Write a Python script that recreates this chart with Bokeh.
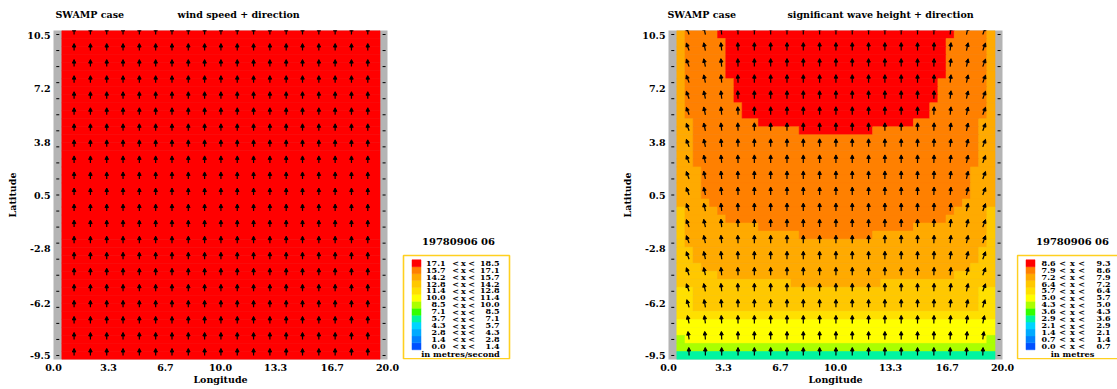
import math
from bokeh.plotting import figure
from bokeh.layouts import row, column
from bokeh.models import ColumnDataSource, Range1d, FixedTicker, LinearColorMapper, Arrow, NormalHead
from bokeh.transform import transform
from bokeh.core.properties import value
from bokeh.embed import file_html
from bokeh.resources import INLINE

FONT = "DejaVu Serif"

# ---------------- data ----------------
palette = ["#0050ff", "#0080ff", "#00aaff", "#00d4ff", "#00f5a0", "#33ff00",
           "#aaff00", "#ffff00", "#ffe000", "#ffc800", "#ffaa00", "#ff8000", "#ff0000"]

wind_edges = [0.0, 1.4, 2.8, 4.3, 5.7, 7.1, 8.5, 10.0, 11.4, 12.8, 14.2, 15.7, 17.1, 18.5]
wave_edges = [0.0, 0.7, 1.4, 2.1, 2.9, 3.6, 4.3, 5.0, 5.7, 6.4, 7.2, 7.9, 8.6, 9.3]

x_tick_labels = ["0.0", "3.3", "6.7", "10.0", "13.3", "16.7", "20.0"]
y_tick_labels = ["10.5", "7.2", "3.8", "0.5", "-2.8", "-6.2", "-9.5"]

date_label = "19780906 06"

# model grid: 41 x 41 points, outer columns are land
n_lon, lon0, dlon = 41, 0.256, 0.4885
n_lat, lat0, dlat = 41, -9.47, 0.5005

# wave height classes (metres) read from the colour field
wave_code_height = {"R": 8.9, "D": 8.2, "O": 7.5, "G": 6.8, "g": 6.0, "Y": 5.3, "L": 4.6, "M": 3.2}
# sea rows, top (north) to bottom (south), 39 sea columns each
wave_rows = [
    "ODDDD" + "R" * 29 + "DDDDO",
    "ODDDDD" + "R" * 27 + "DDDDDO",
    "ODDDDD" + "R" * 27 + "DDDDDO",
    "ODDDDD" + "R" * 27 + "DDDDDO",
    "ODDDDD" + "R" * 27 + "DDDDDO",
    "ODDDDD" + "R" * 27 + "DDDDDO",
    "O" + "D" * 6 + "R" * 25 + "D" * 6 + "O",
    "O" + "D" * 6 + "R" * 25 + "D" * 6 + "O",
    "O" + "D" * 6 + "R" * 25 + "D" * 6 + "O",
    "O" + "D" * 7 + "R" * 23 + "D" * 7 + "O",
    "O" + "D" * 7 + "R" * 23 + "D" * 7 + "O",
    "OO" + "D" * 8 + "R" * 19 + "D" * 8 + "OO",
    "OO" + "D" * 13 + "R" * 9 + "D" * 13 + "OO",
    "OO" + "D" * 35 + "OO",
    "OO" + "D" * 35 + "OO",
    "OO" + "D" * 35 + "OO",
    "OO" + "D" * 35 + "OO",
    "OOO" + "D" * 33 + "OOO",
    "OOO" + "D" * 33 + "OOO",
    "OOO" + "D" * 33 + "OOO",
    "OOO" + "D" * 33 + "OOO",
    "OOOO" + "D" * 31 + "OOOO",
    "GOOOO" + "D" * 29 + "OOOOG",
    "G" + "O" * 5 + "D" * 27 + "O" * 5 + "G",
    "G" + "O" * 9 + "D" * 19 + "O" * 9 + "G",
    "G" + "O" * 14 + "D" * 9 + "O" * 14 + "G",
    "G" + "O" * 37 + "G",
    "GG" + "O" * 35 + "GG",
    "GG" + "O" * 35 + "GG",
    "GGG" + "O" * 33 + "GGG",
    "G" * 5 + "O" * 29 + "G" * 5,
    "G" * 14 + "O" * 11 + "G" * 14,
    "gg" + "G" * 35 + "gg",
    "gg" + "G" * 35 + "gg",
    "gg" + "G" * 35 + "gg",
    "g" * 39,
    "Y" * 39,
    "Y" * 39,
    "L" + "Y" * 37 + "L",
    "L" * 39,
    "M" * 39,
]

wind_code_speed = {"R": 17.8}
wind_rows = ["R" * 39] * 41

# arrow directions (degrees, clockwise from north) for the 19 arrow columns
wave_dir_cols = [-20, -12, -6, -2, 0, 0, 0, 0, 0, 0, 0, 0, 0, 0, 0, 2, 6, 12, 20]
# how much of that turning is present on each arrow row, south to north
wave_dir_row_share = [0.1, 0.4, 0.6, 0.8, 1, 1, 1, 1, 1, 1, 1, 1, 1, 1, 1, 1, 1, 1, 1, 1, 1]
wind_dir_cols = [0] * 19
wind_dir_row_share = [1] * 21

# ---------------- geometry ----------------
X0, X1, Y0, Y1 = 0.0, 20.0, -9.72, 10.8
FRAME_W, FRAME_H = 334, 329
PX_X = FRAME_W / (X1 - X0)
PX_Y = FRAME_H / (Y1 - Y0)
TOP_H = 30
BORDER_L, BORDER_R, BORDER_B = 53, 14, 30
MAP_W = BORDER_L + FRAME_W + BORDER_R
MAP_H = FRAME_H + BORDER_B


def field_runs(rows, code_val):
    L, R, T, B, V = [], [], [], [], []
    n = len(rows)
    for ri, s in enumerate(rows):
        r = n - 1 - ri  # row index from south
        yc = lat0 + dlat * r
        j = 0
        while j < len(s):
            k = j
            while k + 1 < len(s) and s[k + 1] == s[j]:
                k += 1
            L.append(lon0 + dlon * (j + 0.5))
            R.append(lon0 + dlon * (k + 1.5))
            T.append(yc + dlat / 2)
            B.append(yc - dlat / 2)
            V.append(code_val[s[j]])
            j = k + 1
    return ColumnDataSource(dict(left=L, right=R, top=T, bottom=B, v=V))


def arrows(dir_cols, row_share, length_px):
    xs, ys, xe, ye = [], [], [], []
    for ai, i in enumerate(range(0, n_lat, 2)):
        lat = lat0 + dlat * i
        for aj, k in enumerate(range(2, n_lon - 1, 2)):
            lon = lon0 + dlon * k
            d = math.radians(dir_cols[aj] * row_share[ai])
            xs.append(lon)
            ys.append(lat)
            xe.append(lon + length_px * math.sin(d) / PX_X)
            ye.append(lat + length_px * math.cos(d) / PX_Y)
    return ColumnDataSource(dict(xs=xs, ys=ys, xe=xe, ye=ye))


def land_points():
    xs, ys = [], []
    for i in range(0, n_lat, 2):
        for k in (0, n_lon - 1):
            xs.append(lon0 + dlon * k)
            ys.append(lat0 + dlat * i)
    return ColumnDataSource(dict(x=xs, y=ys))


def map_fig(rows, code_val, edges, dir_cols, row_share, length_px):
    p = figure(frame_width=FRAME_W, frame_height=FRAME_H, x_range=Range1d(X0, X1), y_range=Range1d(Y0, Y1),
               output_backend="svg", toolbar_location=None,
               min_border_left=BORDER_L, min_border_right=BORDER_R, min_border_top=0,
               min_border_bottom=BORDER_B,
               x_axis_label="Longitude", y_axis_label="Latitude")
    p.background_fill_color = "#b4b4b4"
    p.border_fill_color = "white"
    p.outline_line_color = None
    p.grid.visible = False
    mapper = LinearColorMapper(palette=palette, low=edges[0], high=edges[-1])
    src = field_runs(rows, code_val)
    p.quad(left="left", right="right", top="top", bottom="bottom", source=src,
           fill_color=transform("v", mapper), line_color=transform("v", mapper), line_width=0.6)
    p.add_layout(Arrow(end=NormalHead(size=3.5, line_color="black", fill_color="black", line_width=1),
                       x_start="xs", y_start="ys", x_end="xe", y_end="ye",
                       source=arrows(dir_cols, row_share, length_px),
                       line_color="black", line_width=1.2))
    p.scatter(x="x", y="y", source=land_points(), marker="dash", size=3, line_color="black", line_width=1)

    xt = [float(s) for s in x_tick_labels]
    yt = [float(s) for s in y_tick_labels]
    p.xaxis.ticker = FixedTicker(ticks=xt)
    p.xaxis.major_label_overrides = {t: s for t, s in zip(xt, x_tick_labels)}
    p.yaxis.ticker = FixedTicker(ticks=yt)
    p.yaxis.major_label_overrides = {t: s for t, s in zip(yt, y_tick_labels)}
    for ax in (p.xaxis, p.yaxis):
        ax.axis_line_color = None
        ax.major_tick_line_color = None
        ax.minor_tick_line_color = None
        ax.major_tick_out = 0
        ax.major_tick_in = 0
        ax.major_label_text_font = FONT
        ax.major_label_text_font_style = "bold"
        ax.major_label_text_font_size = "9.5px"
        ax.major_label_text_color = "black"
        ax.axis_label_text_font = FONT
        ax.axis_label_text_font_style = "bold"
        ax.axis_label_text_font_size = "9.5px"
        ax.axis_label_text_color = "black"
    p.xaxis.major_label_standoff = 4
    p.xaxis.axis_label_standoff = 0
    p.yaxis.major_label_standoff = 3
    p.yaxis.axis_label_standoff = 6
    return p


def text_fig(x0, x1, y0, y1, border_bottom=0):
    p = figure(width=x1 - x0, height=y1 - y0 + border_bottom, x_range=Range1d(x0, x1), y_range=Range1d(y1, y0),
               output_backend="svg", toolbar_location=None, x_axis_type=None, y_axis_type=None,
               min_border=0, min_border_bottom=border_bottom)
    p.outline_line_color = None
    p.grid.visible = False
    p.background_fill_color = "white"
    p.border_fill_color = "white"
    return p


def txt(p, x, y, s, size, align="left"):
    p.text(x=[x], y=[y], text=[s], text_font=value(FONT), text_font_style="bold",
           text_font_size=size, text_align=align, text_baseline="middle", text_color="black")


def legend_fig(x0, x1, box_left, edges, unit, unit_x, cols):
    # frame aligned with the map frame: page rows TOP_H .. TOP_H + FRAME_H
    p = text_fig(x0, x1, TOP_H, TOP_H + FRAME_H, border_bottom=BORDER_B)
    top, step = 259.3, 6.92
    n = len(palette)
    lefts, rights, tops, bottoms = [], [], [], []
    for b in range(n):
        t = top + step * (n - 1 - b)
        lefts.append(box_left + 8.5)
        rights.append(box_left + 17.5)
        tops.append(t)
        bottoms.append(t + step)
    p.quad(left=lefts, right=rights, top=tops, bottom=bottoms, fill_color=palette, line_color=palette, line_width=0.5)
    p.quad(left=[box_left], right=[box_left + 106], top=[255], bottom=[358.3], fill_color=None,
           line_color="#ffd020", line_width=1.6)
    c_lo, c_lt1, c_x, c_lt2, c_hi = cols
    for b in range(n):
        yc = top + step * (n - 1 - b) + step / 2
        txt(p, box_left + c_lo, yc, f"{edges[b]:.1f}", "8px", "right")
        txt(p, box_left + c_lt1, yc, "<", "8px", "center")
        txt(p, box_left + c_x, yc, "x", "8px", "center")
        txt(p, box_left + c_lt2, yc, "<", "8px", "center")
        txt(p, box_left + c_hi, yc, f"{edges[b + 1]:.1f}", "8px", "right")
    txt(p, unit_x, 353.8, unit, "8.2px", "center")
    txt(p, box_left + 55, 241, date_label, "10px", "center")
    return p


# ---------------- layout (page pixel coordinates) ----------------
L_MAP0 = 0
L_LEG0 = L_MAP0 + MAP_W
R_MAP0 = 668 - BORDER_L
R_LEG0 = R_MAP0 + MAP_W
PAGE_W = 1117

title_l = text_fig(L_MAP0, R_MAP0, 0, TOP_H)
txt(title_l, 55, 14, "SWAMP case", "9.5px")
txt(title_l, 177, 14, "wind speed + direction", "9.5px")
map_l = map_fig(wind_rows, wind_code_speed, wind_edges, wind_dir_cols, wind_dir_row_share, 7)
leg_l = legend_fig(L_LEG0, R_MAP0, 403, wind_edges, "in metres/second", 460, (42, 52, 60, 68, 96))

title_r = text_fig(R_MAP0, PAGE_W, 0, TOP_H)
txt(title_r, 667, 14, "SWAMP case", "9.5px")
txt(title_r, 787, 14, "significant wave height + direction", "9.5px")
map_r = map_fig(wave_rows, wave_code_height, wave_edges, wave_dir_cols, wave_dir_row_share, 8)
leg_r = legend_fig(R_LEG0, PAGE_W, 1017, wave_edges, "in metres", 1072, (38, 45, 55, 64, 93))

layout = row(column(title_l, row(map_l, leg_l)), column(title_r, row(map_r, leg_r)))

open("out.html", "w").write(file_html(layout, INLINE))
